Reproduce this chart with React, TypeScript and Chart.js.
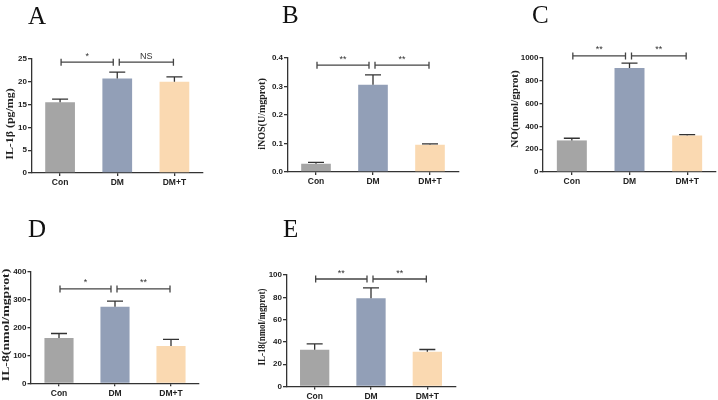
import React, { useEffect, useRef } from "react";
import { Chart, registerables } from "chart.js";

Chart.register(...registerables);

// Groups on the x axis
const categories = ["Con", "DM", "DM+T"];
const barColors = ["#a5a5a5", "#929fb7", "#fad9b1"];

// A: IL-1β (pg/mg)
const il1bMean = [15.5, 20.7, 20.0];
const il1bErr = [0.7, 1.4, 1.1];
// B: iNOS (U/mgprot)
const inosMean = [0.029, 0.306, 0.096];
const inosErr = [0.005, 0.035, 0.003];
// C: NO (nmol/gprot)
const noMean = [277, 912, 321];
const noErr = [19, 43, 6];
// D: IL-8 (nmol/mgprot)
const il8Mean = [163, 275, 134];
const il8Err = [16, 20, 24];
// E: IL-18 (nmol/mgprot)
const il18Mean = [32.9, 79.1, 31.1];
const il18Err = [5.3, 9.3, 2.1];

// Significance marks: [Con vs DM, DM vs DM+T]
const il1bMarks = ["*", "NS"];
const inosMarks = ["**", "**"];
const noMarks = ["**", "**"];
const il8Marks = ["*", "**"];
const il18Marks = ["**", "**"];

// Height (in data units) of the comparison brackets
const bracketLevels = [24.3, 0.375, 1018, 339, 96.4];

// Axis ranges
const axisMax = [25, 0.4, 1000, 400, 100];
const axisStep = [5, 0.1, 200, 100, 20];
const axisDecimals = [0, 1, 0, 0, 0];

const panelLetters = ["A", "B", "C", "D", "E"];
const axisTitles = [
  "IL-1β (pg/mg)",
  "iNOS(U/mgprot)",
  "NO(nmol/gprot)",
  "IL-8(nmol/mgprot)",
  "IL-18(nmol/mgprot)",
];

type Box = { x: number; y: number; w: number; h: number };
type Area = { l: number; r: number; t: number; b: number };

type Panel = {
  letter: string;
  title: string;
  mean: number[];
  err: number[];
  marks: string[];
  level: number;
  max: number;
  step: number;
  decimals: number;
  cell: Box;
  area: Area;
  letterPos: { x: number; base: number };
  titlePos: { x: number; cy: number; stretch: number };
};

const means = [il1bMean, inosMean, noMean, il8Mean, il18Mean];
const errs = [il1bErr, inosErr, noErr, il8Err, il18Err];
const marks = [il1bMarks, inosMarks, noMarks, il8Marks, il18Marks];

// Page layout of the five panels (absolute page pixels)
const layouts = [
  {
    cell: { x: 0, y: 0, w: 230, h: 200 },
    area: { l: 31.5, r: 203, t: 59, b: 173 },
    letterPos: { x: 28, base: 23.5 },
    titlePos: { x: 10.5, cy: 124, stretch: 1.19 },
  },
  {
    cell: { x: 230, y: 0, w: 250, h: 200 },
    area: { l: 287.5, r: 458.5, t: 58, b: 172 },
    letterPos: { x: 282, base: 22.5 },
    titlePos: { x: 262, cy: 114, stretch: 1.0 },
  },
  {
    cell: { x: 480, y: 0, w: 238, h: 200 },
    area: { l: 543, r: 716, t: 58, b: 172 },
    letterPos: { x: 532, base: 22.7 },
    titlePos: { x: 515, cy: 109, stretch: 1.12 },
  },
  {
    cell: { x: 0, y: 200, w: 230, h: 200 },
    area: { l: 31, r: 199, t: 272, b: 383.3 },
    letterPos: { x: 28, base: 236.7 },
    titlePos: { x: 6.5, cy: 325, stretch: 1.38 },
  },
  {
    cell: { x: 230, y: 200, w: 250, h: 200 },
    area: { l: 286.5, r: 455.5, t: 275, b: 386.5 },
    letterPos: { x: 283, base: 237.3 },
    titlePos: { x: 262, cy: 327, stretch: 0.89 },
  },
];

const panels: Panel[] = layouts.map((lay, i) => ({
  letter: panelLetters[i],
  title: axisTitles[i],
  mean: means[i],
  err: errs[i],
  marks: marks[i],
  level: bracketLevels[i],
  max: axisMax[i],
  step: axisStep[i],
  decimals: axisDecimals[i],
  ...lay,
}));

const SANS = "'Liberation Sans', Arial, sans-serif";
const SERIF = "'Liberation Serif', 'Times New Roman', serif";
const INK = "#333333";

function marksPlugin(p: Panel) {
  return {
    id: "panelMarks",
    afterDatasetsDraw(chart: any) {
      const ctx: CanvasRenderingContext2D = chart.ctx;
      const yScale = chart.scales.y;
      const xScale = chart.scales.x;
      const meta = chart.getDatasetMeta(0);
      ctx.save();
      ctx.strokeStyle = INK;
      ctx.lineWidth = 1.3;

      // Error bars (upper whisker with cap)
      meta.data.forEach((bar: any, i: number) => {
        const top = yScale.getPixelForValue(p.mean[i]);
        const cap = yScale.getPixelForValue(p.mean[i] + p.err[i]);
        ctx.beginPath();
        ctx.moveTo(bar.x, top);
        ctx.lineTo(bar.x, cap);
        ctx.moveTo(bar.x - 8, cap);
        ctx.lineTo(bar.x + 8, cap);
        ctx.stroke();
      });

      // Comparison brackets
      const by = yScale.getPixelForValue(p.level);
      const c0 = xScale.getPixelForValue(0);
      const c1 = xScale.getPixelForValue(1);
      const c2 = xScale.getPixelForValue(2);
      const spans = [
        [c0 + 1, c1 - 4],
        [c1 + 2, c2 - 1],
      ];
      ctx.strokeStyle = "#444";
      ctx.fillStyle = "#333";
      ctx.font = `9px ${SANS}`;
      ctx.textAlign = "center";
      ctx.textBaseline = "alphabetic";
      spans.forEach(([a, b], k) => {
        ctx.beginPath();
        ctx.moveTo(a, by);
        ctx.lineTo(b, by);
        ctx.moveTo(a, by - 3.5);
        ctx.lineTo(a, by + 3.5);
        ctx.moveTo(b, by - 3.5);
        ctx.lineTo(b, by + 3.5);
        ctx.stroke();
        ctx.fillText(p.marks[k], (a + b) / 2, by - 3.5);
      });
      ctx.restore();
    },
    afterDraw(chart: any) {
      const ctx: CanvasRenderingContext2D = chart.ctx;
      ctx.save();
      // Panel letter
      ctx.fillStyle = "#111";
      ctx.font = `25px ${SERIF}`;
      ctx.textAlign = "left";
      ctx.textBaseline = "alphabetic";
      ctx.fillText(p.letter, p.letterPos.x - p.cell.x, p.letterPos.base - p.cell.y);

      // Rotated y-axis title
      ctx.translate(p.titlePos.x - p.cell.x, p.titlePos.cy - p.cell.y);
      ctx.rotate(-Math.PI / 2);
      ctx.scale(p.titlePos.stretch, 1);
      ctx.font = `bold 10px ${SERIF}`;
      ctx.fillStyle = "#222";
      ctx.textAlign = "center";
      ctx.textBaseline = "middle";
      ctx.fillText(p.title, 0, 0);
      ctx.restore();
    },
  };
}

function PanelChart({ p }: { p: Panel }) {
  const ref = useRef<HTMLCanvasElement | null>(null);

  useEffect(() => {
    if (!ref.current) return;
    const { cell, area } = p;
    const chart = new Chart(ref.current, {
      type: "bar",
      data: {
        labels: categories,
        datasets: [
          {
            data: p.mean,
            backgroundColor: barColors,
            borderWidth: 0,
            barPercentage: 0.52,
            categoryPercentage: 1,
          },
        ],
      },
      options: {
        animation: false,
        responsive: false,
        maintainAspectRatio: false,
        layout: {
          padding: {
            top: area.t - cell.y,
            right: cell.x + cell.w - area.r,
            left: 0,
            bottom: 0,
          },
        },
        plugins: {
          legend: { display: false },
          tooltip: { enabled: false },
          title: { display: false },
        },
        scales: {
          x: {
            grid: {
              display: true,
              drawOnChartArea: false,
              offset: false,
              drawTicks: true,
              tickLength: 3,
              color: INK,
              lineWidth: 1.3,
            },
            border: { display: true, color: INK, width: 1.3 },
            ticks: {
              color: "#222",
              font: { family: SANS, weight: "bold", size: 8.5 },
              padding: 2,
              maxRotation: 0,
              autoSkip: false,
            },
            afterFit: (s: any) => {
              s.height = cell.y + cell.h - area.b;
            },
          },
          y: {
            min: 0,
            max: p.max,
            grid: {
              display: true,
              drawOnChartArea: false,
              drawTicks: true,
              tickLength: 3.5,
              color: INK,
              lineWidth: 1.3,
            },
            border: { display: true, color: INK, width: 1.3 },
            ticks: {
              stepSize: p.step,
              color: "#222",
              font: { family: SANS, weight: "bold", size: 8 },
              padding: 1,
              callback: (v: any) => Number(v).toFixed(p.decimals),
            },
            afterFit: (s: any) => {
              s.width = area.l - cell.x;
            },
          },
        },
      } as any,
      plugins: [marksPlugin(p)],
    });
    return () => chart.destroy();
  }, [p]);

  return (
    <canvas
      ref={ref}
      width={p.cell.w}
      height={p.cell.h}
      style={{
        position: "absolute",
        left: p.cell.x,
        top: p.cell.y,
        width: p.cell.w,
        height: p.cell.h,
      }}
    />
  );
}

export default function App() {
  return (
    <div
      style={{
        position: "fixed",
        left: 0,
        top: 0,
        width: 718,
        height: 400,
        background: "#ffffff",
        overflow: "hidden",
      }}
    >
      {panels.map((p) => (
        <PanelChart key={p.letter} p={p} />
      ))}
    </div>
  );
}
